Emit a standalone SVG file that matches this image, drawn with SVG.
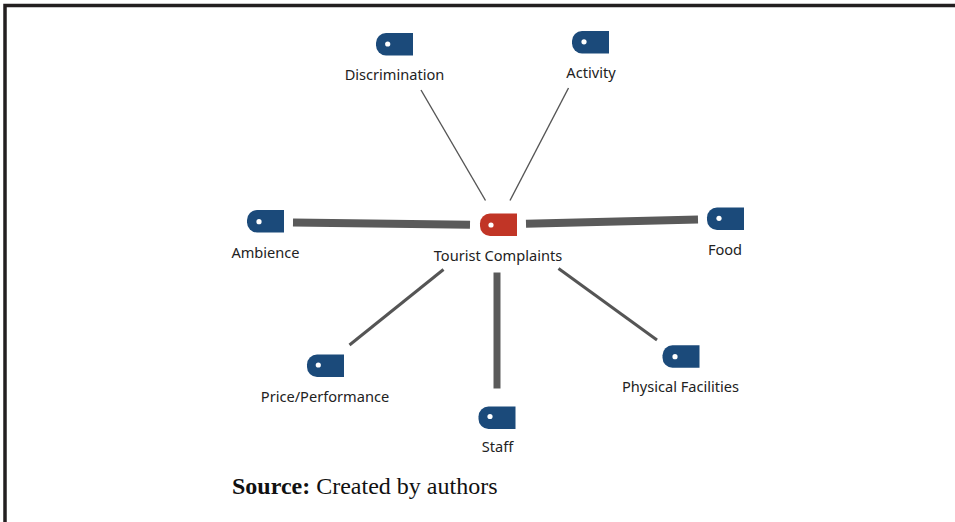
<svg xmlns="http://www.w3.org/2000/svg" xmlns:xlink="http://www.w3.org/1999/xlink" width="955" height="522" viewBox="0 0 955 522">
  <style>
    .lbl { font-family: "Noto Sans", "Open Sans", "DejaVu Sans", sans-serif; font-size: 14.6px; fill: #222; text-anchor: middle; }
    .src { font-family: "Liberation Serif", "Times New Roman", serif; font-size: 24px; fill: #111; }
    .thin { stroke: #555; stroke-width: 1.4; fill: none; }
    .mid { stroke: #555; stroke-width: 3; fill: none; }
    .thick { stroke: #5a5a5a; stroke-width: 8; fill: none; }
    .blue { fill: #1b4a7a; }
    .red { fill: #c13526; }
    .dot { fill: #ffffff; }
  </style>
  <defs>
    <path id="tag" d="M10,0 H37 V22.5 H10 A10,10 0 0 1 0,12.5 V10 A10,10 0 0 1 10,0 Z"/>
  </defs>
  <rect x="0" y="0" width="955" height="522" fill="#ffffff"/>
  <path d="M5,522 V5.5 H955" fill="none" stroke="#231f20" stroke-width="3.5"/>

  <g id="connectors">
    <line class="thin" x1="421" y1="90" x2="485.5" y2="200.5"/>
    <line class="thin" x1="568.5" y1="88" x2="510" y2="200.5"/>
    <line class="thick" x1="293" y1="222.5" x2="470" y2="224.8"/>
    <line class="thick" x1="526" y1="223.8" x2="698" y2="219.5"/>
    <line class="mid" x1="443.5" y1="269.5" x2="349.5" y2="345"/>
    <line class="thick" x1="497" y1="272.5" x2="497" y2="388.5" style="stroke-width:7"/>
    <line class="mid" x1="558.5" y1="268.5" x2="657" y2="340"/>
  </g>

  <g id="node-center">
    <use xlink:href="#tag" href="#tag" class="red" x="480" y="213.5"/>
    <circle class="dot" cx="491" cy="225" r="2.6"/>
    <text class="lbl" x="498" y="260.5">Tourist Complaints</text>
  </g>
  <g id="node-discrimination">
    <use xlink:href="#tag" href="#tag" class="blue" x="376" y="33"/>
    <circle class="dot" cx="387.7" cy="44" r="2.6"/>
    <text class="lbl" x="394.5" y="80">Discrimination</text>
  </g>
  <g id="node-activity">
    <use xlink:href="#tag" href="#tag" class="blue" x="572" y="31"/>
    <circle class="dot" cx="584" cy="41.8" r="2.6"/>
    <text class="lbl" x="591" y="78">Activity</text>
  </g>
  <g id="node-ambience">
    <use xlink:href="#tag" href="#tag" class="blue" x="247" y="210"/>
    <circle class="dot" cx="259" cy="221.7" r="2.6"/>
    <text class="lbl" x="265.5" y="258">Ambience</text>
  </g>
  <g id="node-food">
    <use xlink:href="#tag" href="#tag" class="blue" x="707" y="207.5"/>
    <circle class="dot" cx="719" cy="218.3" r="2.6"/>
    <text class="lbl" x="725" y="255">Food</text>
  </g>
  <g id="node-price">
    <use xlink:href="#tag" href="#tag" class="blue" x="307" y="354.5"/>
    <circle class="dot" cx="318.3" cy="365" r="2.6"/>
    <text class="lbl" x="325" y="401.5">Price/Performance</text>
  </g>
  <g id="node-staff">
    <use xlink:href="#tag" href="#tag" class="blue" x="478.5" y="406.5"/>
    <circle class="dot" cx="490" cy="416.5" r="2.6"/>
    <text class="lbl" x="497.5" y="452">Staff</text>
  </g>
  <g id="node-physical">
    <use xlink:href="#tag" href="#tag" class="blue" x="662.5" y="345.3"/>
    <circle class="dot" cx="675" cy="356.7" r="2.6"/>
    <text class="lbl" x="680.5" y="392">Physical Facilities</text>
  </g>

  <text class="src" x="232" y="494"><tspan font-weight="bold">Source:</tspan> Created by authors</text>
</svg>
